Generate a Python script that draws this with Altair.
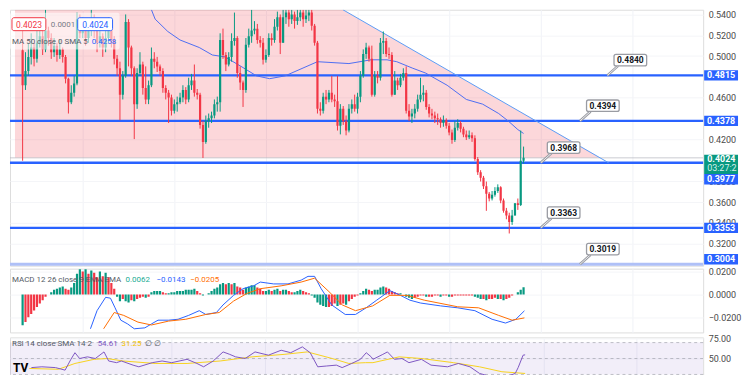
import altair as alt
import pandas as pd

FONT = "Roboto"
W = 696
H_MAIN, H_MACD, H_RSI = 257, 64, 38
X_DOM = [-2.67, 236.0]
P_DOM = [0.2990, 0.5444]
M_DOM = [-0.0332, 0.0225]
R_DOM = [29.0, 76.5]
GRID_IDX = [21, 53, 85, 117, 149, 181, 213]
UP, DOWN, BLUE = "#089981", "#F23645", "#2962FF"

# ---------------- data ----------------
first_open = 0.5055
close = [
    0.4720, 0.4856, 0.4992, 0.5082, 0.4973, 0.5127, 0.5191, 0.5064, 0.5245, 0.5173,
    0.5037, 0.5100, 0.5010, 0.5064, 0.4992, 0.4783, 0.4557, 0.4648, 0.4738, 0.5354,
    0.5218, 0.5281, 0.5173, 0.5245, 0.5335, 0.5263, 0.5127, 0.5191, 0.5082, 0.5173,
    0.5263, 0.5154, 0.4973, 0.4883, 0.4630, 0.4810, 0.5326, 0.5082, 0.4883, 0.4539,
    0.4838, 0.4919, 0.4693, 0.4584, 0.4720, 0.4973, 0.4946, 0.4901, 0.4856, 0.4693,
    0.4648, 0.4602, 0.4476, 0.4539, 0.4557, 0.4602, 0.4675, 0.4584, 0.4720, 0.4765,
    0.4648, 0.4630, 0.4340, 0.4177, 0.4376, 0.4403, 0.4430, 0.4539, 0.4557, 0.5154,
    0.5010, 0.4919, 0.4992, 0.5145, 0.5173, 0.4838, 0.4747, 0.4675, 0.5109, 0.5191,
    0.5245, 0.5263, 0.5154, 0.5127, 0.4964, 0.5010, 0.5173, 0.5154, 0.5281, 0.5372,
    0.5127, 0.5372, 0.5417, 0.5354, 0.5399, 0.5335, 0.5372, 0.5417, 0.5354, 0.5390,
    0.5417, 0.5290, 0.5127, 0.4494, 0.4476, 0.4611, 0.4584, 0.4648, 0.4584, 0.4566,
    0.4331, 0.4494, 0.4376, 0.4286, 0.4494, 0.4539, 0.4494, 0.4611, 0.4810, 0.5019,
    0.5082, 0.4973, 0.4630, 0.4810, 0.4792, 0.5127, 0.5145, 0.5019, 0.5010, 0.4630,
    0.4765, 0.4720, 0.4792, 0.4838, 0.4476, 0.4421, 0.4449, 0.4494, 0.4584, 0.4630,
    0.4648, 0.4512, 0.4449, 0.4430, 0.4403, 0.4394, 0.4358, 0.4385, 0.4331, 0.4268,
    0.4195, 0.4313, 0.4358, 0.4304, 0.4249, 0.4222, 0.4240, 0.4213, 0.4014, 0.3887,
    0.3833, 0.3752, 0.3679, 0.3634, 0.3670, 0.3706, 0.3743, 0.3616, 0.3516, 0.3471,
    0.3408, 0.3471, 0.3589, 0.3571, 0.3996, 0.4024]
high = [
    0.5263, 0.5037, 0.5127, 0.5218, 0.5127, 0.5245, 0.5308, 0.5263, 0.5444, 0.5281,
    0.5218, 0.5173, 0.5127, 0.5154, 0.5082, 0.5010, 0.4792, 0.4720, 0.4810, 0.5417,
    0.5399, 0.5372, 0.5335, 0.5354, 0.5444, 0.5399, 0.5308, 0.5263, 0.5218, 0.5263,
    0.5372, 0.5308, 0.5191, 0.5010, 0.4946, 0.4856, 0.5399, 0.5354, 0.5100, 0.4901,
    0.4883, 0.5037, 0.4946, 0.4901, 0.4765, 0.5082, 0.5037, 0.4992, 0.4919, 0.4883,
    0.4720, 0.4675, 0.4630, 0.4584, 0.4611, 0.4648, 0.4720, 0.4702, 0.4792, 0.4829,
    0.4919, 0.4684, 0.4648, 0.4376, 0.4430, 0.4449, 0.4467, 0.4584, 0.4611, 0.5218,
    0.5263, 0.5037, 0.5037, 0.5218, 0.5417, 0.5191, 0.4901, 0.4765, 0.5173, 0.5263,
    0.5444, 0.5335, 0.5308, 0.5191, 0.5173, 0.5064, 0.5218, 0.5218, 0.5354, 0.5426,
    0.5399, 0.5444, 0.5444, 0.5444, 0.5444, 0.5426, 0.5444, 0.5444, 0.5444, 0.5444,
    0.5444, 0.5444, 0.5308, 0.5145, 0.4557, 0.4648, 0.4675, 0.4675, 0.4810, 0.4630,
    0.4810, 0.4539, 0.4521, 0.4430, 0.4539, 0.4584, 0.4630, 0.4648, 0.4856, 0.5064,
    0.5127, 0.5100, 0.5100, 0.4856, 0.4856, 0.5173, 0.5236, 0.5173, 0.5082, 0.5037,
    0.4856, 0.4792, 0.4829, 0.4883, 0.4901, 0.4539, 0.4494, 0.4539, 0.4630, 0.4792,
    0.4720, 0.4675, 0.4539, 0.4494, 0.4467, 0.4449, 0.4412, 0.4430, 0.4403, 0.4358,
    0.4295, 0.4376, 0.4394, 0.4376, 0.4322, 0.4286, 0.4286, 0.4268, 0.4240, 0.4032,
    0.3906, 0.3851, 0.3797, 0.3697, 0.3706, 0.3743, 0.3770, 0.3752, 0.3634, 0.3544,
    0.3498, 0.3525, 0.3589, 0.3634, 0.4286, 0.4132]
low = [
    0.3996, 0.4675, 0.4810, 0.4919, 0.4901, 0.4937, 0.5082, 0.5010, 0.5037, 0.5100,
    0.4973, 0.4992, 0.4946, 0.4973, 0.4937, 0.4738, 0.4449, 0.4539, 0.4611, 0.4720,
    0.5173, 0.5173, 0.5100, 0.5127, 0.5191, 0.5173, 0.5037, 0.5082, 0.4992, 0.5037,
    0.5127, 0.5082, 0.4919, 0.4810, 0.4385, 0.4584, 0.4792, 0.4901, 0.4810, 0.4204,
    0.4494, 0.4810, 0.4630, 0.4539, 0.4539, 0.4702, 0.4883, 0.4847, 0.4810, 0.4648,
    0.4584, 0.4358, 0.4430, 0.4449, 0.4467, 0.4539, 0.4557, 0.4539, 0.4557, 0.4675,
    0.4611, 0.4584, 0.4304, 0.4023, 0.4159, 0.4313, 0.4358, 0.4403, 0.4467, 0.4467,
    0.4973, 0.4856, 0.4901, 0.4946, 0.5100, 0.4792, 0.4675, 0.4512, 0.4648, 0.5082,
    0.5127, 0.5209, 0.5118, 0.5082, 0.4919, 0.4937, 0.4992, 0.5100, 0.5127, 0.5245,
    0.5019, 0.5127, 0.5308, 0.5281, 0.5308, 0.5263, 0.5299, 0.5335, 0.5281, 0.5317,
    0.5335, 0.5245, 0.5100, 0.4449, 0.4430, 0.4449, 0.4539, 0.4557, 0.4557, 0.4512,
    0.4286, 0.4249, 0.4340, 0.4240, 0.4268, 0.4449, 0.4467, 0.4449, 0.4557, 0.4792,
    0.4973, 0.4946, 0.4611, 0.4611, 0.4738, 0.4765, 0.5019, 0.4992, 0.4973, 0.4611,
    0.4630, 0.4675, 0.4702, 0.4765, 0.4449, 0.4376, 0.4358, 0.4403, 0.4467, 0.4557,
    0.4566, 0.4485, 0.4412, 0.4394, 0.4358, 0.4340, 0.4313, 0.4322, 0.4304, 0.4240,
    0.4159, 0.4177, 0.4286, 0.4268, 0.4222, 0.4195, 0.4204, 0.4177, 0.3996, 0.3860,
    0.3797, 0.3725, 0.3516, 0.3607, 0.3616, 0.3652, 0.3688, 0.3589, 0.3498, 0.3435,
    0.3299, 0.3381, 0.3471, 0.3525, 0.3562, 0.3969]

ma_idx = [45.0, 46.3, 50.7, 55.0, 61.7, 66.3, 70.7, 76.3, 81.7, 86.3, 91.7, 103.0, 114.0,
          121.7, 127.3, 130.7, 136.3, 140.7, 148.3, 155.0, 160.7, 166.3, 169.7, 173.0, 175.0]
ma_val = [0.5444, 0.5354, 0.5236, 0.5154, 0.5082, 0.5010, 0.4992, 0.4901, 0.4810, 0.4783,
          0.4810, 0.4946, 0.4928, 0.4964, 0.4964, 0.4946, 0.4883, 0.4838, 0.4720, 0.4584,
          0.4539, 0.4449, 0.4376, 0.4295, 0.4258]

hist = [
    -0.027, -0.024, -0.020, -0.017, -0.014, -0.011, -0.008, -0.005, -0.002, 0.000,
    0.002, 0.004, 0.005, 0.006, 0.007, 0.005, 0.004, 0.006, 0.010, 0.018,
    0.022, 0.020, 0.022, 0.018, 0.021, 0.019, 0.015, 0.020, 0.016, 0.019,
    0.015, 0.010, 0.005, -0.002, -0.006, -0.004, -0.006, -0.007, -0.005, -0.006,
    -0.004, -0.003, -0.002, -0.003, -0.002, 0.002, 0.003, 0.003, 0.003, 0.002,
    0.001, 0.001, 0.002, 0.002, 0.003, 0.003, 0.003, 0.004, 0.004, 0.004,
    0.005, 0.003, 0.001, -0.001, 0.000, 0.001, 0.003, 0.005, 0.006, 0.009,
    0.010, 0.009, 0.010, 0.009, 0.010, 0.007, 0.006, 0.004, 0.006, 0.007,
    0.008, 0.008, 0.006, 0.005, 0.003, 0.003, 0.004, 0.003, 0.004, 0.005,
    0.003, 0.004, 0.004, 0.003, 0.002, 0.002, 0.003, 0.004, 0.003, 0.002,
    0.001, -0.001, -0.003, -0.007, -0.009, -0.010, -0.011, -0.011, -0.010, -0.008,
    -0.010, -0.009, -0.008, -0.009, -0.006, -0.004, -0.002, -0.001, 0.001, 0.003,
    0.005, 0.004, 0.003, 0.004, 0.004, 0.006, 0.007, 0.006, 0.005, 0.003,
    0.002, 0.001, 0.001, 0.000, -0.002, -0.003, -0.004, -0.003, -0.002, -0.001,
    -0.001, -0.002, -0.002, -0.002, -0.001, -0.001, -0.002, -0.001, -0.001, -0.002,
    -0.002, -0.001, -0.001, -0.001, -0.001, -0.001, -0.001, -0.001, -0.002, -0.003,
    -0.004, -0.004, -0.005, -0.004, -0.004, -0.003, -0.004, -0.004, -0.005, -0.004,
    -0.003, -0.001, 0.000, 0.002, 0.004, 0.0062]

macd_idx = [23.7, 26.0, 29.0, 30.7, 32.3, 34.3, 36.7, 39.0, 42.7, 45.0, 47.3, 51.0, 54.3,
            58.0, 61.7, 64.0, 67.7, 70.0, 73.7, 77.0, 80.7, 83.0, 87.7, 92.7, 97.3, 99.7,
            102.0, 104.3, 108.0, 112.7, 116.3, 120.0, 123.7, 128.3, 132.0, 135.3, 139.0,
            146.0, 152.0, 158.0, 164.0, 168.7, 172.3, 175.3]
macd_val = [-0.0300, -0.0142, -0.0025, -0.0033, -0.0117, -0.0225, -0.0258, -0.0300,
            -0.0292, -0.0258, -0.0225, -0.0225, -0.0217, -0.0183, -0.0142, -0.0175,
            -0.0158, -0.0092, -0.0008, 0.0050, 0.0075, 0.0108, 0.0092, 0.0092, 0.0125,
            0.0158, 0.0158, 0.0050, -0.0092, -0.0175, -0.0175, -0.0117, -0.0050, 0.0033,
            -0.0008, -0.0050, -0.0075, -0.0100, -0.0117, -0.0142, -0.0217, -0.0250,
            -0.0217, -0.0143]
sig_idx = [28.3, 32.0, 35.3, 40.3, 45.0, 51.0, 57.0, 64.0, 68.7, 73.7, 78.3, 83.0, 90.3,
           97.3, 102.0, 107.0, 111.7, 116.3, 122.3, 128.3, 134.3, 140.3, 152.0, 159.3,
           166.3, 171.0, 175.3]
sig_val = [-0.0300, -0.0158, -0.0183, -0.0242, -0.0267, -0.0233, -0.0217, -0.0175,
           -0.0158, -0.0058, 0.0008, 0.0050, 0.0075, 0.0108, 0.0142, 0.0025, -0.0092,
           -0.0142, -0.0100, -0.0008, -0.0008, -0.0050, -0.0108, -0.0117, -0.0183,
           -0.0225, -0.0205]

rsi_idx = [4.7, 8.3, 13.0, 16.3, 18.3, 19.7, 21.3, 24.0, 26.7, 29.7, 31.3, 34.0, 35.7,
           39.7, 41.7, 46.3, 49.7, 53.0, 58.3, 61.7, 64.0, 67.3, 70.7, 73.0, 75.0, 78.3,
           81.7, 86.3, 90.7, 94.0, 98.0, 100.7, 103.3, 106.3, 109.7, 111.7, 115.0, 118.0,
           120.0, 121.7, 122.3, 125.7, 127.3, 129.7, 132.3, 134.7, 139.0, 142.3, 148.0,
           151.7, 155.7, 159.0, 164.0, 169.0, 171.3, 172.3, 174.0, 174.7]
rsi_val = [38.6, 39.6, 38.6, 35.4, 49.0, 57.3, 50.0, 52.1, 50.0, 58.3, 46.9, 44.8, 46.9,
           41.7, 39.6, 44.8, 46.9, 44.8, 49.0, 43.8, 39.6, 46.9, 58.3, 55.2, 52.1, 50.0,
           58.3, 54.2, 60.4, 57.3, 64.6, 57.3, 39.6, 40.6, 41.7, 38.6, 43.8, 49.0, 57.3,
           52.1, 49.0, 55.2, 58.3, 49.0, 50.0, 44.8, 49.0, 41.7, 39.6, 43.8, 39.6, 31.3,
           26.1, 28.2, 31.3, 38.6, 54.2, 54.61]
rsis_idx = [4.0, 14.0, 19.7, 26.3, 30.7, 36.3, 47.3, 58.3, 69.7, 80.7, 91.7, 99.7, 108.3,
            114.0, 119.7, 122.3, 131.3, 139.0, 150.0, 159.0, 166.7, 174.7]
rsis_val = [37.5, 36.5, 43.8, 49.0, 50.0, 46.9, 43.8, 43.8, 46.9, 52.1, 55.2, 58.3, 50.0,
            43.8, 44.8, 44.8, 52.1, 50.0, 44.8, 39.6, 33.4, 31.25]

levels = [0.4815, 0.4378, 0.3977, 0.3353, 0.3004]
level_tags = ["0.4815", "0.4378", "0.3977", "0.3353", "0.3004"]
callout_labels = ["0.4840", "0.4394", "0.3968", "0.3363", "0.3019"]
last_price = 0.4024
trend_idx = [111.9, 204.7]
trend_val = [0.5444, 0.3977]

# ---------------- layout helpers ----------------
KP = (P_DOM[1] - P_DOM[0]) / H_MAIN      # price units per pixel
callout_tip = [204.3, 194.7, 181.0, 181.0, 194.7]
LEG = 8.0                                 # legend font size


def xq(field="i"):
    return alt.X(f"{field}:Q", scale=alt.Scale(domain=X_DOM, nice=False, zero=False),
                 axis=alt.Axis(values=GRID_IDX, labels=False, ticks=False, domain=False,
                               grid=True, gridColor="#F0F2F7", title=None))


def yq(field, dom, values, fmt):
    return alt.Y(f"{field}:Q", scale=alt.Scale(domain=dom, nice=False, zero=False),
                 axis=alt.Axis(orient="right", values=values, format=fmt, labelFontSize=9,
                               labelFont=FONT, labelColor="#4A4A4A", tickSize=0,
                               domain=False, labelPadding=5, grid=True, gridColor="#F4F5F8",
                               labelOverlap=False, labelBound=False, title=None))


PV = [0.32, 0.34, 0.36, 0.38, 0.42, 0.46, 0.50, 0.52, 0.54]
def ym(f): return yq(f, P_DOM, PV, ".4f")
def yd(f): return yq(f, M_DOM, [-0.02, 0.0, 0.02], ".4f")
def yr(f): return yq(f, R_DOM, [50, 75], ".2f")


def one():
    return alt.Chart(pd.DataFrame({"z": [0]}))


def txt(s, x, y, color, size=LEG, align="left", weight="normal", baseline="middle"):
    return alt.Chart(pd.DataFrame({"t": [s]})).mark_text(
        align=align, baseline=baseline, color=color, fontSize=size, fontWeight=weight,
        font=FONT).encode(x=alt.value(x), y=alt.value(y), text="t:N")


def box(x1, x2, y1, y2, fill, stroke=None, opacity=1.0):
    kw = dict(fill=fill, cornerRadius=2, opacity=opacity)
    if stroke:
        kw.update(stroke=stroke, strokeWidth=1)
    return one().mark_rect(**kw).encode(x=alt.value(x1), x2=alt.value(x2),
                                        y=alt.value(y1), y2=alt.value(y2))


# ---------------- main price panel ----------------
n = len(close)
opens = [first_open] + close[:-1]
cdf = pd.DataFrame({"i": list(range(n)), "open": opens, "close": close,
                    "hi": [max(h, o, c) for h, o, c in zip(high, opens, close)],
                    "lo": [min(l, o, c) for l, o, c in zip(low, opens, close)]})
cdf["dir"] = ["up" if c >= o else "down" for o, c in zip(opens, close)]
ccol = alt.Color("dir:N", scale=alt.Scale(domain=["up", "down"], range=[UP, DOWN]), legend=None)

pink = alt.Chart(pd.DataFrame({"i": [X_DOM[0], trend_idx[0], 201.8],
                               "top": [P_DOM[1], P_DOM[1], last_price],
                               "bot": [last_price] * 3})).mark_area(
    color=DOWN, opacity=0.2, clip=True).encode(x=xq(), y=ym("top"), y2="bot:Q")

price_line = alt.Chart(pd.DataFrame({"p": [last_price]})).mark_rule(
    color="#B2B5BE", strokeWidth=1, opacity=0.7).encode(y=ym("p"))

lvl_main = alt.Chart(pd.DataFrame({"p": levels[:4]})).mark_rule(
    color=BLUE, strokeWidth=2.3).encode(y=ym("p"))
lvl_low = alt.Chart(pd.DataFrame({"p": levels[4:]})).mark_rule(
    color="#AFC0F7", strokeWidth=3).encode(y=ym("p"))

trend = alt.Chart(pd.DataFrame({"i": trend_idx, "p": trend_val})).mark_line(
    color="#5B9CF6", strokeWidth=1, clip=True).encode(x=xq(), y=ym("p"))

ma = alt.Chart(pd.DataFrame({"i": ma_idx, "p": ma_val})).mark_line(
    color="#4E6EF2", strokeWidth=1, clip=True).encode(x=xq(), y=ym("p"))

wicks = alt.Chart(cdf).mark_rule(strokeWidth=1, clip=True).encode(
    x=xq(), y=ym("lo"), y2="hi:Q", color=ccol)
bodies = alt.Chart(cdf).mark_bar(size=2.2, clip=True).encode(
    x=xq(), y=ym("open"), y2="close:Q", color=ccol)

co = pd.DataFrame({
    "t": callout_labels,
    "tip_i": callout_tip,
    "tip_p": levels,
    "tail_i": [v + 3.7 for v in callout_tip],
    "tail_p": [p + 9.5 * KP for p in levels],
    "bx1": [v + 2.3 for v in callout_tip],
    "bx2": [v + 13.7 for v in callout_tip],
    "cx": [v + 8.0 for v in callout_tip],
    "cy": [p + 15.0 * KP for p in levels],
    "by1": [p + 9.5 * KP for p in levels],
    "by2": [p + 21.0 * KP for p in levels],
})
ptr_out = alt.Chart(co).mark_rule(color="#9A9CA3", strokeWidth=2.6).encode(
    x=xq("tip_i"), x2="tail_i:Q", y=ym("tip_p"), y2="tail_p:Q")
ptr_in = alt.Chart(co).mark_rule(color="#FFFFFF", strokeWidth=0.8).encode(
    x=xq("tip_i"), x2="tail_i:Q", y=ym("tip_p"), y2="tail_p:Q")
co_box = alt.Chart(co).mark_rect(fill="white", stroke="#9A9CA3", strokeWidth=1.3,
                                 cornerRadius=2).encode(
    x=xq("bx1"), x2="bx2:Q", y=ym("by1"), y2="by2:Q")
co_txt = alt.Chart(co).mark_text(fontSize=8.5, font=FONT, fontWeight="bold",
                                 color="#131722").encode(x=xq("cx"), y=ym("cy"), text="t:N")

# right-hand price tags
tag_c = [levels[0], levels[1], last_price - 21.5 * KP, levels[3], levels[4] + 5 * KP]
tags = pd.DataFrame({"t": level_tags, "c": tag_c,
                     "lo": [c - 5.2 * KP for c in tag_c], "hi": [c + 5.2 * KP for c in tag_c]})
tag_rect = alt.Chart(tags).mark_rect(color=BLUE).encode(
    x=alt.value(W + 1), x2=alt.value(W + 35), y=ym("lo"), y2="hi:Q")
tag_txt = alt.Chart(tags).mark_text(color="white", fontSize=9, font=FONT,
                                    fontWeight="bold").encode(
    x=alt.value(W + 18), y=ym("c"), text="t:N")
gtag = pd.DataFrame({"lo": [last_price - 16.2 * KP], "hi": [last_price + 3.2 * KP],
                     "t1": ["0.4024"], "p1": [last_price - 1.0 * KP],
                     "t2": ["03:27:2"], "p2": [last_price - 10.0 * KP]})
g_rect = alt.Chart(gtag).mark_rect(color=UP).encode(
    x=alt.value(W + 1), x2=alt.value(W + 35), y=ym("lo"), y2="hi:Q")
g_t1 = alt.Chart(gtag).mark_text(color="white", fontSize=9, font=FONT, fontWeight="bold",
                                 align="left").encode(x=alt.value(W + 4), y=ym("p1"), text="t1:N")
g_t2 = alt.Chart(gtag).mark_text(color="#D5F0EA", fontSize=9, font=FONT,
                                 align="left").encode(x=alt.value(W + 4), y=ym("p2"), text="t2:N")

header = [
    box(0, 110, 3, 40, "white", opacity=0.55),
    box(2, 36, 8, 21, "white", stroke=DOWN),
    txt("0.4023", 19, 15, DOWN, size=8.5, align="center"),
    txt("0.0001", 41, 15, "#787B86"),
    box(68, 103, 8, 21, "white", stroke=BLUE),
    txt("0.4024", 85.5, 15, BLUE, size=8.5, align="center"),
    txt("MA 50 close 0 SMA 5", 2, 32, "#555B66"),
    txt("0.4258", 82, 32, BLUE),
]

main = alt.layer(pink, price_line, lvl_main, lvl_low, trend, ma, wicks, bodies,
                 ptr_out, ptr_in, co_box, co_txt, *header,
                 tag_rect, tag_txt, g_rect, g_t1, g_t2).properties(width=W, height=H_MAIN)

# ---------------- MACD panel ----------------
cats, prev = [], 0.0
for v in hist:
    if v >= 0:
        cats.append("pu" if v >= prev else "pd")
    else:
        cats.append("nd" if v < prev else "nu")
    prev = v
hdf = pd.DataFrame({"i": list(range(n)), "h": hist, "k": cats})
hbars = alt.Chart(hdf).mark_bar(size=2.2, clip=True).encode(
    x=xq(), y=yd("h"), y2=alt.datum(0),
    color=alt.Color("k:N", scale=alt.Scale(domain=["pu", "pd", "nd", "nu"],
                                           range=["#26A69A", "#B2DFDB", "#FF5252", "#FFCDD2"]),
                    legend=None))
mline = alt.Chart(pd.DataFrame({"i": macd_idx, "v": macd_val})).mark_line(
    color=BLUE, strokeWidth=1, clip=True).encode(x=xq(), y=yd("v"))
sline = alt.Chart(pd.DataFrame({"i": sig_idx, "v": sig_val})).mark_line(
    color="#FF6D00", strokeWidth=1, clip=True).encode(x=xq(), y=yd("v"))
macd_lbl = [
    txt("MACD 12 26 close 9 EMA EMA", 2, 11, "#555B66"),
    txt("0.0062", 116, 11, "#22AB94"),
    txt("\u22120.0143", 147, 11, BLUE),
    txt("\u22120.0205", 181, 11, "#FF6D00"),
]
macd = alt.layer(hbars, mline, sline, *macd_lbl).properties(width=W, height=H_MACD)

# ---------------- RSI panel ----------------
band = alt.Chart(pd.DataFrame({"a": [70], "b": [30]})).mark_rect(
    color="#7E57C2", opacity=0.1, clip=True).encode(y=yr("a"), y2="b:Q")
dashes = alt.Chart(pd.DataFrame({"v": [70, 50, 30]})).mark_rule(
    color="#9598A1", strokeDash=[3, 3], strokeWidth=1, opacity=0.6).encode(y=yr("v"))
rsi_l = alt.Chart(pd.DataFrame({"i": rsi_idx, "v": rsi_val})).mark_line(
    color="#7E57C2", strokeWidth=1, clip=True).encode(x=xq(), y=yr("v"))
rsis_l = alt.Chart(pd.DataFrame({"i": rsis_idx, "v": rsis_val})).mark_line(
    color="#F7D21E", strokeWidth=1, clip=True).encode(x=xq(), y=yr("v"))
rsi_lbl = [
    txt("RSI 14 close SMA 14 2", 2, 7, "#555B66"),
    txt("54.61", 88, 7, "#7E57C2"),
    txt("31.25", 112, 7, "#F2C200"),
    txt("\u2205 \u2205", 136, 7, "#555B66"),
    txt("TV", 3, 38, "#000000", size=12, weight="bold", baseline="bottom"),
]
rsi = alt.layer(band, dashes, rsis_l, rsi_l, *rsi_lbl).properties(width=W, height=H_RSI)

chart = alt.vconcat(main, macd, rsi, spacing=0, padding=0).configure_view(
    stroke=None).configure(background="white")

chart.save("out.html", embed_options={"renderer": "svg", "actions": False})
